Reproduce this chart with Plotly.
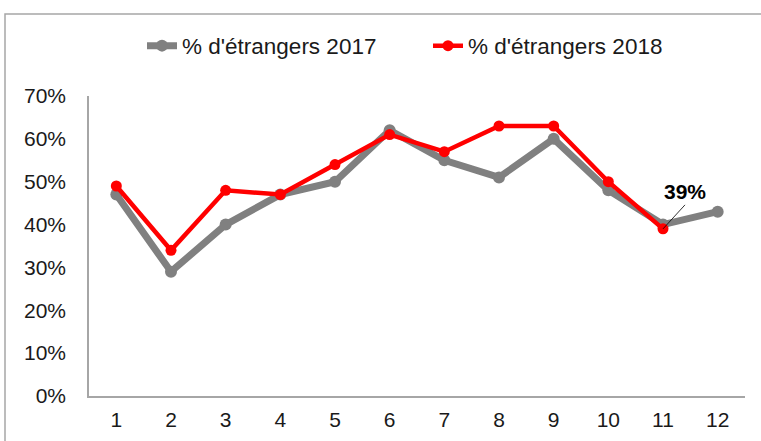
import plotly.graph_objects as go

months = [1, 2, 3, 4, 5, 6, 7, 8, 9, 10, 11, 12]
pct_2017 = [0.47, 0.29, 0.40, 0.47, 0.50, 0.62, 0.55, 0.51, 0.60, 0.48, 0.40, 0.43]
months_2018 = [1, 2, 3, 4, 5, 6, 7, 8, 9, 10, 11]
pct_2018 = [0.49, 0.34, 0.48, 0.47, 0.54, 0.61, 0.57, 0.63, 0.63, 0.50, 0.39]
name_2017 = "% d'étrangers 2017"
name_2018 = "% d'étrangers 2018"
y_ticks = [0, 0.1, 0.2, 0.3, 0.4, 0.5, 0.6, 0.7]

W, H = 761, 441
ml, mr, mt, mb = 89, 16, 96, 45
pw, ph = W - ml - mr, H - mt - mb

def px_x(p):
    return (p - ml) / pw

def px_y(p):
    return (H - mb - p) / ph

FONT = "Liberation Sans, Arial, sans-serif"

fig = go.Figure()
fig.add_trace(go.Scatter(
    x=months, y=pct_2017, name=name_2017, mode="lines+markers",
    line=dict(color="#808080", width=7), marker=dict(size=12, color="#808080"),
))
fig.add_trace(go.Scatter(
    x=months_2018, y=pct_2018, name=name_2018, mode="lines+markers",
    line=dict(color="#FF0000", width=4.5), marker=dict(size=11, color="#FF0000"),
))

fig.add_annotation(
    x=months_2018[-1], y=pct_2018[-1], text="<b>39%</b>",
    showarrow=True, arrowhead=0, arrowwidth=0.8, arrowcolor="#000000",
    ax=22, ay=-24, xanchor="center", yanchor="bottom",
    font=dict(size=21, color="#000000", family=FONT),
)

fig.add_shape(
    type="rect", xref="paper", yref="paper",
    x0=px_x(5), x1=px_x(775), y0=px_y(460), y1=px_y(14),
    line=dict(color="#A6A6A6", width=1.5), fillcolor="rgba(0,0,0,0)", layer="below",
)

fig.update_layout(
    width=W, height=H,
    margin=dict(l=ml, r=mr, t=mt, b=mb, autoexpand=False),
    paper_bgcolor="white", plot_bgcolor="white",
    font=dict(family=FONT, size=21, color="#1a1a1a"),
    showlegend=True,
    legend=dict(orientation="h", x=px_x(142), xanchor="left", y=px_y(46), yanchor="middle",
                font=dict(size=22.5), entrywidth=241, entrywidthmode="pixels",
                traceorder="normal", bgcolor="rgba(0,0,0,0)"),
    xaxis=dict(
        range=[0.5, 12.5], tickmode="array", tickvals=months, ticktext=[str(m) for m in months],
        showgrid=False, zeroline=False, showline=True, linecolor="#A6A6A6", linewidth=1.5,
        ticks="", ticklabelstandoff=4,
    ),
    yaxis=dict(
        range=[0, 0.7], tickmode="array", tickvals=y_ticks, tickformat=".0%",
        showgrid=False, zeroline=False, showline=True, linecolor="#A6A6A6", linewidth=1.5,
        ticks="", ticklabelstandoff=17,
    ),
)

fig.write_html("out.html", config={"displayModeBar": False},
               post_script="document.body.style.margin='0';")
